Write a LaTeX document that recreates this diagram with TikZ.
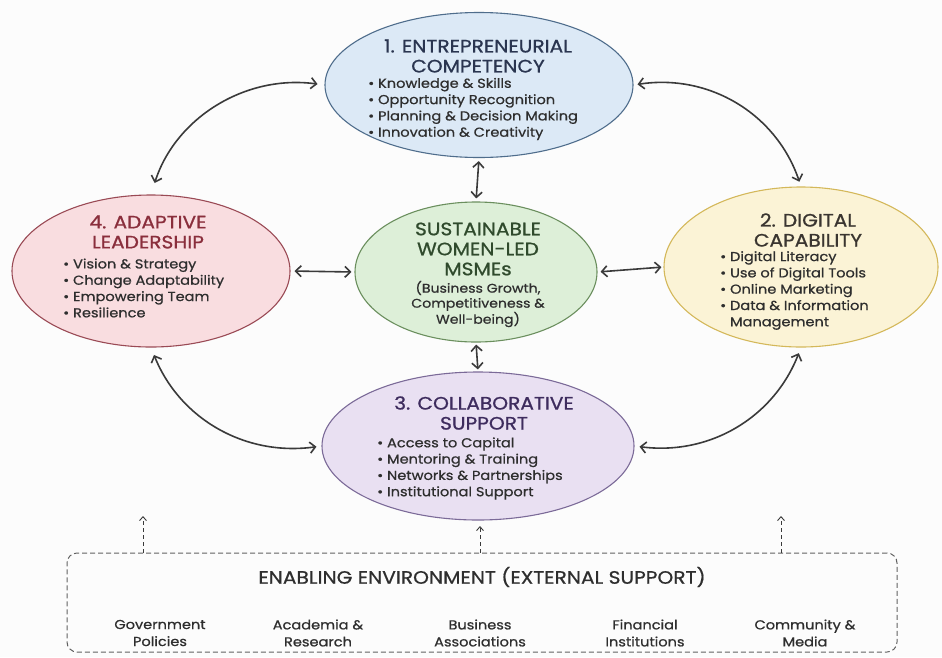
\documentclass[tikz,border=0pt]{standalone}
\usepackage{fontspec}
\setmainfont{Poppins}[FakeStretch=1.12,FakeBold=0.7]
\newfontfamily\headfont{Poppins}[FakeStretch=1.12,FakeBold=0.9]
\usepackage{xcolor}
\usepackage{tikz}
\usetikzlibrary{arrows.meta,shapes.geometric,calc}
\definecolor{ink}{HTML}{3A3A3A}
\definecolor{txt}{HTML}{2E2E2E}
\definecolor{paper}{HTML}{FCFCFC}
\definecolor{bluefill}{HTML}{DCE9F6}
\definecolor{blueline}{HTML}{4F6D8C}
\definecolor{bluetext}{HTML}{2A3550}
\definecolor{pinkfill}{HTML}{F9DDE0}
\definecolor{pinkline}{HTML}{9A4A55}
\definecolor{pinktext}{HTML}{8A2E3C}
\definecolor{greenfill}{HTML}{DDEFD8}
\definecolor{greenline}{HTML}{6B8F5E}
\definecolor{greentext}{HTML}{2F4A2C}
\definecolor{yellowfill}{HTML}{FBF3D6}
\definecolor{yellowline}{HTML}{D4B85A}
\definecolor{yellowtext}{HTML}{3A3530}
\definecolor{purplefill}{HTML}{E9E0F2}
\definecolor{purpleline}{HTML}{7B6A98}
\definecolor{purpletext}{HTML}{3E2C5E}

\begin{document}
\begin{tikzpicture}[
 x=1pt,y=1pt,
 blob/.style={ellipse,line width=1.1pt,inner sep=0pt},
 ttl/.style={font=\headfont\fontsize{18}{20}\selectfont,align=center,inner sep=0pt},
 itm/.style={font=\fontsize{13}{16.3}\selectfont,align=left,anchor=west,inner sep=0pt,text=txt},
 sub/.style={font=\fontsize{12.6}{15}\selectfont,align=center,inner sep=0pt,text=txt},
 link/.style={{Straight Barb[length=5.5pt,width=11pt]}-{Straight Barb[length=5.5pt,width=11pt]},draw=ink,line width=1.6pt},
 feed/.style={-{Straight Barb[length=4pt,width=7pt]},draw=ink,line width=0.9pt,dash pattern=on 4pt off 3pt},
 envbox/.style={draw=ink!80,line width=1pt,dash pattern=on 5pt off 3pt,rounded corners=10pt,inner sep=0pt},
 lbl/.style={font=\fontsize{13}{17}\selectfont,align=center,inner sep=0pt,text=txt}
]
\fill[paper] (0,0) rectangle (942,-657);
\useasboundingbox (0,0) rectangle (942,-657);

\node[blob,draw=blueline,fill=bluefill,minimum width=308pt,minimum height=145pt] (comp) at (479,-85) {};
\node[blob,draw=pinkline,fill=pinkfill,minimum width=278pt,minimum height=152pt] (lead) at (151,-271) {};
\node[blob,draw=greenline,fill=greenfill,minimum width=242pt,minimum height=140pt] (core) at (476,-272) {};
\node[blob,draw=yellowline,fill=yellowfill,minimum width=274pt,minimum height=160pt] (dig) at (801,-267) {};
\node[blob,draw=purpleline,fill=purplefill,minimum width=312pt,minimum height=148pt] (collab) at (478,-446) {};

\node[ttl,text=bluetext] (comp-t) at (478,-56) {1. ENTREPRENEURIAL\\COMPETENCY};
\node[itm] (comp-l) at (368,-109) {• Knowledge \& Skills\\• Opportunity Recognition\\• Planning \& Decision Making\\• Innovation \& Creativity};

\node[ttl,text=pinktext] (lead-t) at (148,-232) {4. ADAPTIVE\\LEADERSHIP};
\node[itm] (lead-l) at (63,-288) {• Vision \& Strategy\\• Change Adaptability\\• Empowering Team\\• Resilience};

\node[ttl,text=greentext] (core-t) at (478,-249) {SUSTAINABLE\\WOMEN-LED\\MSMEs};
\node[sub] (core-s) at (478,-304) {(Business Growth,\\Competitiveness \&\\Well-being)};

\node[ttl,text=yellowtext] (dig-t) at (808,-230) {2. DIGITAL\\CAPABILITY};
\node[itm] (dig-l) at (720,-290.5) {• Digital Literacy\\• Use of Digital Tools\\• Online Marketing\\• Data \& Information\\\phantom{• }Management};

\node[ttl,text=purpletext] (collab-t) at (484,-413) {3. COLLABORATIVE\\SUPPORT};
\node[itm] (collab-l) at (377,-468.5) {• Access to Capital\\• Mentoring \& Training\\• Networks \& Partnerships\\• Institutional Support};

\draw[link,shorten <=3pt,shorten >=3pt] (comp.south) -- (core.north);
\draw[link,shorten <=2pt,shorten >=2pt] (core.south) -- (collab.north);
\draw[link,shorten <=4pt,shorten >=3pt] (lead.east) -- (core.west);
\draw[link,shorten <=3pt,shorten >=2pt] (core.east) -- (dig.west);
\draw[link,shorten <=7pt,shorten >=12pt] (comp.west) to[bend right=40] (lead.north);
\draw[link,shorten <=4pt,shorten >=5pt] (comp.east) to[bend left=40] (dig.north);
\draw[link,shorten <=8pt,shorten >=5pt] (lead.south) to[bend right=38] (collab.west);
\draw[link,shorten <=6pt,shorten >=5pt] (dig.south) to[bend left=38] (collab.east);

\node[envbox,minimum width=830pt,minimum height=99pt] (env) at (482,-602.5) {};
\node[font=\fontsize{18}{20}\selectfont,text=txt,inner sep=0pt] (env-t) at (482,-577) {ENABLING ENVIRONMENT (EXTERNAL SUPPORT)};
\node[lbl] (gov) at (160,-633) {Government\\Policies};
\node[lbl] (acad) at (318,-633) {Academia \&\\Research};
\node[lbl] (bus) at (480,-633) {Business\\Associations};
\node[lbl] (fin) at (645,-633) {Financial\\Institutions};
\node[lbl] (comm) at (805,-633) {Community \&\\Media};

\coordinate (up1) at (143,-516);
\coordinate (up2) at (480,-526);
\coordinate (up3) at (781,-516);
\draw[feed] (up1 |- env.north) -- (up1);
\draw[feed] (up2 |- env.north) -- (up2);
\draw[feed] (up3 |- env.north) -- (up3);
\end{tikzpicture}
\end{document}
